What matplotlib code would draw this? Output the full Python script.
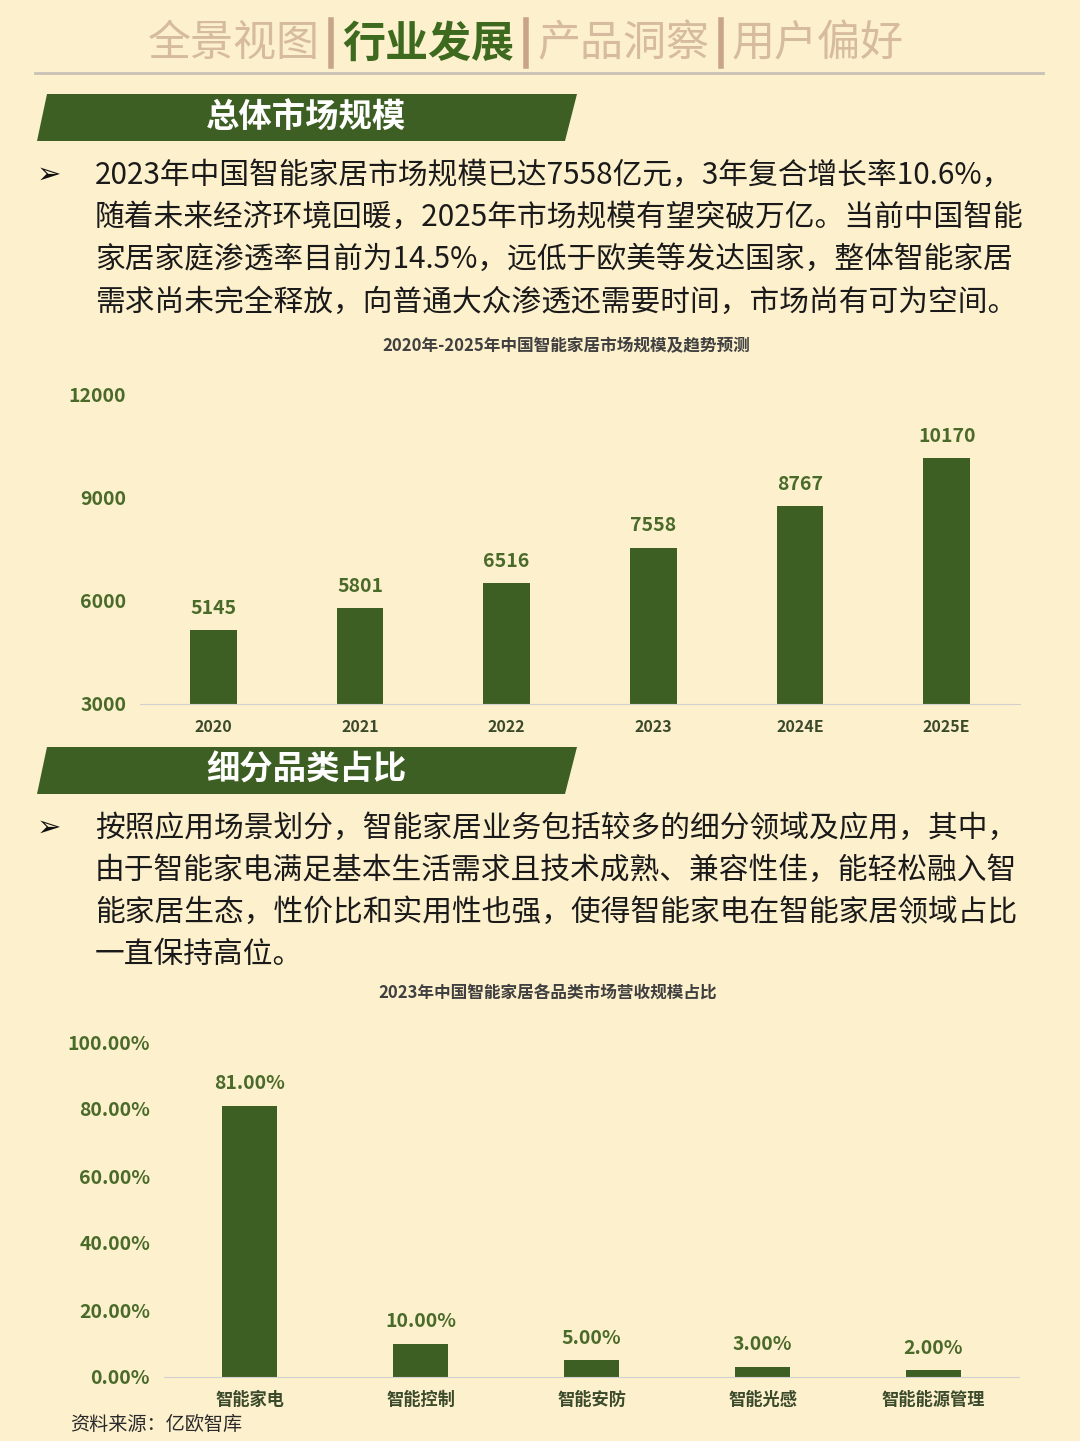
import matplotlib
matplotlib.use("Agg")
import matplotlib.pyplot as plt
from matplotlib.patches import Polygon
from matplotlib.lines import Line2D

plt.rcParams['font.family'] = ['Noto Sans CJK SC', 'DejaVu Sans']

# data
years = ["2020", "2021", "2022", "2023", "2024E", "2025E"]
market_size = [5145, 5801, 6516, 7558, 8767, 10170]
categories = ["智能家电", "智能控制", "智能安防", "智能光感", "智能能源管理"]
shares = [81.0, 10.0, 5.0, 3.0, 2.0]
tabs = ["全景视图", "行业发展", "产品洞察", "用户偏好"]
para1 = ["2023年中国智能家居市场规模已达7558亿元，3年复合增长率10.6%，",
         "随着未来经济环境回暖，2025年市场规模有望突破万亿。当前中国智能",
         "家居家庭渗透率目前为14.5%，远低于欧美等发达国家，整体智能家居",
         "需求尚未完全释放，向普通大众渗透还需要时间，市场尚有可为空间。"]
para2 = ["按照应用场景划分，智能家居业务包括较多的细分领域及应用，其中，",
         "由于智能家电满足基本生活需求且技术成熟、兼容性佳，能轻松融入智",
         "能家居生态，性价比和实用性也强，使得智能家电在智能家居领域占比",
         "一直保持高位。"]

BG = '#FDF0CD'
GREEN = '#3E5F23'
LABEL = '#4A6A2A'
W, H = 1080, 1441

def fx(x):
    return x / W

def fy(y):
    return 1 - y / H

fig = plt.figure(figsize=(10.8, 14.41), dpi=100, facecolor=BG)

# header tabs
tab_x = [234, 428, 623, 818]
for i, t in enumerate(tabs):
    if i == 1:
        fig.text(fx(tab_x[i]), fy(44), t, fontsize=31, color='#3D6A1F',
                 fontweight='bold', ha='center', va='center')
    else:
        fig.text(fx(tab_x[i]), fy(44), t, fontsize=31, color='#D6BB9E',
                 ha='center', va='center')
for bx in [331, 526, 721]:
    fig.add_artist(Line2D([fx(bx), fx(bx)], [fy(20), fy(66)], color='#C9A587',
                          lw=4, transform=fig.transFigure))
fig.add_artist(Line2D([fx(35), fx(1043)], [fy(73), fy(73)], color='#C8C2B6',
                      lw=2, transform=fig.transFigure))

# section banners
def banner(ytop, ybot, text):
    pts = [(fx(47), fy(ytop)), (fx(577), fy(ytop)), (fx(565), fy(ybot)), (fx(37), fy(ybot))]
    fig.add_artist(Polygon(pts, closed=True, facecolor=GREEN, edgecolor='none',
                           transform=fig.transFigure))
    fig.text(fx(306), fy((ytop + ybot) / 2), text, fontsize=24, color='white',
             fontweight='bold', ha='center', va='center')

banner(94, 141, "总体市场规模")
banner(747, 794, "细分品类占比")

def paragraph(lines, y0):
    fig.text(fx(49), fy(y0), "➢", fontsize=21, color='#111111', ha='center',
             va='center', family='DejaVu Sans', fontweight='bold')
    for k, ln in enumerate(lines):
        fig.text(fx(95), fy(y0 + k * 42.3), ln, fontsize=21.4, color='#1A1A1A',
                 ha='left', va='center')

paragraph(para1, 175)
paragraph(para2, 828)

fig.text(fx(566), fy(346), "2020年-2025年中国智能家居市场规模及趋势预测", fontsize=12,
         color='#404040', fontweight='bold', ha='center', va='center')
fig.text(fx(548), fy(994), "2023年中国智能家居各品类市场营收规模占比", fontsize=12,
         color='#404040', fontweight='bold', ha='center', va='center')

# chart 1
ax1 = fig.add_axes([140 / W, 1 - 704 / H, 880 / W, 309 / H])
ax1.set_facecolor(BG)
x1 = range(len(years))
ax1.bar(x1, market_size, width=0.32, color=GREEN)
for i, v in enumerate(market_size):
    ax1.text(i, v + 350, str(v), ha='center', va='bottom', fontsize=14,
             fontweight='bold', color=LABEL)
ax1.set_xlim(-0.5, len(years) - 0.5)
ax1.set_ylim(3000, 12000)
ax1.set_yticks([3000, 6000, 9000, 12000])
ax1.set_yticklabels(["3000", "6000", "9000", "12000"], fontsize=14,
                    fontweight='bold', color=LABEL)
ax1.set_xticks(list(x1))
ax1.set_xticklabels(years, fontsize=11.5, fontweight='bold', color='#3A4A2A')
for s in ['top', 'right', 'left']:
    ax1.spines[s].set_visible(False)
ax1.spines['bottom'].set_color('#D0D0D0')
ax1.tick_params(length=0, pad=11)
ax1.tick_params(axis='y', pad=10)

# chart 2
ax2 = fig.add_axes([164 / W, 1 - 1377 / H, 855 / W, 335 / H])
ax2.set_facecolor(BG)
x2 = range(len(categories))
ax2.bar(x2, shares, width=0.32, color=GREEN)
for i, v in enumerate(shares):
    ax2.text(i, v + 3.8, "%.2f%%" % v, ha='center', va='bottom', fontsize=14,
             fontweight='bold', color=LABEL)
ax2.set_xlim(-0.5, len(categories) - 0.5)
ax2.set_ylim(0, 100)
ax2.set_yticks([0, 20, 40, 60, 80, 100])
ax2.set_yticklabels(["%.2f%%" % t for t in [0, 20, 40, 60, 80, 100]], fontsize=14,
                    fontweight='bold', color=LABEL)
ax2.set_xticks(list(x2))
ax2.set_xticklabels(categories, fontsize=12.4, fontweight='bold', color='#3A4A2A')
for s in ['top', 'right', 'left']:
    ax2.spines[s].set_visible(False)
ax2.spines['bottom'].set_color('#D0D0D0')
ax2.tick_params(length=0, pad=10)
ax2.tick_params(axis='y', pad=10)

fig.text(fx(70), fy(1424), "资料来源：亿欧智库", fontsize=13.8, color='#2A2A2A',
         ha='left', va='center')

fig.savefig("out.png", dpi=100, facecolor=BG)
